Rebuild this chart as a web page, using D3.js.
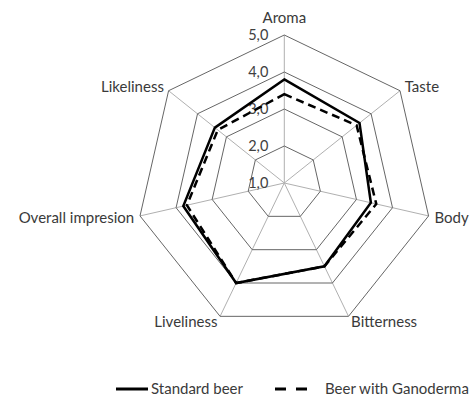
<!DOCTYPE html>
<html>
<head>
<meta charset="utf-8">
<script src="https://cdn.jsdelivr.net/npm/d3@7"></script>
<style>
  body { margin: 0; background: #ffffff; }
  text { font-family: "Lato", "Open Sans", sans-serif; fill: #3a3a3a; }
</style>
</head>
<body>
<svg id="radar" width="473" height="401"></svg>
<script>
const attributes = ["Aroma", "Taste", "Body", "Bitterness", "Liveliness", "Overall impresion", "Likeliness"];
const standardBeer = [3.8, 3.6, 3.4, 3.5, 4.0, 3.8, 3.4];
const ganodermaBeer = [3.4, 3.5, 3.55, 3.5, 4.0, 3.7, 3.3];
const ringValues = [1, 2, 3, 4, 5];
const tickLabels = ["1,0", "2,0", "3,0", "4,0", "5,0"];
const seriesNames = ["Standard beer", "Beer with Ganoderma"];

const svg = d3.select("#radar"),
    cx = 284.3,
    cy = 183,
    radius = 148;

const r = d3.scaleLinear()
    .domain([1, 5])
    .range([0, radius]);

const angle = d3.scalePoint()
    .domain(attributes)
    .range([0, 2 * Math.PI * (attributes.length - 1) / attributes.length]);

const chart = svg.append("g")
    .attr("transform", `translate(${cx},${cy})`);

const point = (a, v) => [Math.sin(angle(a)) * r(v), -Math.cos(angle(a)) * r(v)];

// spokes
chart.append("g")
    .selectAll("line")
    .data(attributes)
    .join("line")
    .attr("x1", 0)
    .attr("y1", 0)
    .attr("x2", d => point(d, 5)[0])
    .attr("y2", d => point(d, 5)[1])
    .attr("stroke", "#b0b0b0")
    .attr("stroke-width", 1);

// rings
chart.append("g")
    .selectAll("path")
    .data(ringValues.slice(1))
    .join("path")
    .attr("d", v => d3.line()(attributes.map(a => point(a, v))) + "Z")
    .attr("fill", "none")
    .attr("stroke", "#666666")
    .attr("stroke-width", 1);

// tick labels along the first axis
chart.append("g")
    .selectAll("text")
    .data(ringValues)
    .join("text")
    .attr("x", -16)
    .attr("y", v => -r(v))
    .attr("dy", "0.35em")
    .attr("text-anchor", "end")
    .style("font-size", "14.5px")
    .style("fill", "#404040")
    .text((v, i) => tickLabels[i]);

// axis labels
chart.append("g")
    .selectAll("text")
    .data(attributes)
    .join("text")
    .each(function (a) {
        const s = Math.sin(angle(a)), c = Math.cos(angle(a));
        const off = radius + (c > 0.9 ? 17 : 6);
        d3.select(this)
            .attr("x", s * off)
            .attr("y", -c * off)
            .attr("dy", "0.35em")
            .attr("text-anchor", s > 0.1 ? "start" : s < -0.1 ? "end" : "middle");
    })
    .style("font-size", "15px")
    .text(d => d);

// series
const series = [
    { name: seriesNames[0], values: standardBeer, dash: null },
    { name: seriesNames[1], values: ganodermaBeer, dash: "8,5" }
];

chart.append("g")
    .selectAll("path")
    .data(series.slice().reverse())
    .join("path")
    .attr("d", s => d3.line()(attributes.map((a, i) => point(a, s.values[i]))) + "Z")
    .attr("fill", "none")
    .attr("stroke", "#000000")
    .attr("stroke-width", 2.5)
    .attr("stroke-linejoin", "miter")
    .attr("stroke-dasharray", s => s.dash);

// legend
const legendItems = [
    { name: seriesNames[0], x1: 116, x2: 148, tx: 151, dash: null },
    { name: seriesNames[1], x1: 275, x2: 308, tx: 325, dash: "11,10" }
];
const legend = svg.append("g").attr("transform", "translate(0,389)");
legendItems.forEach(d => {
    legend.append("line")
        .attr("x1", d.x1).attr("x2", d.x2)
        .attr("y1", 0).attr("y2", 0)
        .attr("stroke", "#000000")
        .attr("stroke-width", 3)
        .attr("stroke-dasharray", d.dash);
    legend.append("text")
        .attr("x", d.tx)
        .attr("y", 0)
        .attr("dy", "0.35em")
        .style("font-size", "15px")
        .text(d.name);
});
</script>
</body>
</html>
